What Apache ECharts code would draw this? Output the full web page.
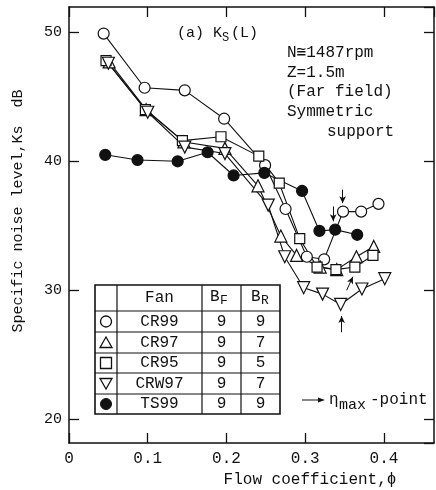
<!DOCTYPE html>
<html>
<head>
    <meta charset="utf-8">
    <title>Ks(L) - Specific noise level</title>
    <script src="https://cdn.jsdelivr.net/npm/echarts@6/dist/echarts.min.js"></script>
    <style>html,body{margin:0;padding:0;background:#fff;}</style>
</head>
<body>
    <div id="main" style="width: 436px;height:490px;"></div>
    <script type="text/javascript">
        // flow coefficient (phi) and Ks [dB]
        var phiCR99 = [0.044, 0.096, 0.147, 0.197, 0.249, 0.275, 0.302, 0.324, 0.348, 0.371, 0.393];
        var ksCR99  = [49.9, 45.7, 45.5, 43.3, 39.7, 36.3, 32.6, 32.4, 36.1, 36.1, 36.7];

        var phiCR97 = [0.051, 0.098, 0.146, 0.198, 0.240, 0.269, 0.289, 0.319, 0.340, 0.365, 0.387];
        var ksCR97  = [47.7, 44.0, 41.5, 41.0, 38.1, 34.2, 32.7, 31.8, 31.6, 32.6, 33.4];

        var phiCR95 = [0.047, 0.097, 0.144, 0.193, 0.241, 0.267, 0.293, 0.315, 0.339, 0.363, 0.386];
        var ksCR95  = [47.8, 44.0, 41.6, 41.9, 40.4, 38.3, 34.0, 31.8, 31.6, 31.8, 32.7];

        var phiCRW97 = [0.050, 0.100, 0.147, 0.198, 0.253, 0.274, 0.298, 0.322, 0.345, 0.372, 0.401];
        var ksCRW97  = [47.6, 43.8, 41.1, 40.6, 36.6, 32.6, 30.2, 29.7, 28.9, 30.1, 30.9];

        var phiTS99 = [0.046, 0.087, 0.138, 0.176, 0.209, 0.248, 0.296, 0.318, 0.338, 0.366];
        var ksTS99  = [40.5, 40.1, 40.0, 40.7, 38.9, 39.1, 37.7, 34.6, 34.7, 34.3];

        // legend table rows
        var fans = ['CR99', 'CR97', 'CR95', 'CRW97', 'TS99'];
        var bladesF = [9, 9, 9, 9, 9];
        var bladesR = [9, 7, 5, 7, 9];

        // eta-max arrows (phi, Ks from -> to)
        var arrowCR99  = [[0.3475, 37.8], [0.3475, 36.75]];
        var arrowTS99  = [[0.3355, 36.5], [0.3355, 35.35]];
        var arrowCR95  = [[0.3526, 30.0], [0.3605, 31.05]];
        var arrowCRW97 = [[0.3462, 26.75], [0.3462, 28.0]];

        var FONT = '"Liberation Mono","DejaVu Sans Mono",monospace';
        var INK = '#111';

        function pairs(xs, ys) {
            return xs.map(function (x, i) { return [x, ys[i]]; });
        }
        function arrow(a) {
            return {
                silent: true,
                symbol: ['none', 'arrow'],
                symbolSize: [5, 7],
                lineStyle: { color: INK, width: 1, type: 'solid' },
                label: { show: false },
                emphasis: { disabled: true },
                data: [[{ coord: a[0] }, { coord: a[1] }]]
            };
        }
        function makeSeries(name, xs, ys, symbol, size, filled, rot, arr) {
            var s = {
                name: name,
                type: 'line',
                data: pairs(xs, ys),
                symbol: symbol,
                symbolSize: size,
                symbolRotate: rot || 0,
                showAllSymbol: true,
                lineStyle: { color: INK, width: 1.1 },
                itemStyle: { color: filled ? INK : '#fff', borderColor: INK, borderWidth: 1.2 },
                emphasis: { disabled: true },
                z: 3
            };
            if (arr) s.markLine = arrow(arr);
            return s;
        }
        function txt(x, y, s, size, align) {
            return {
                type: 'text', x: x, y: y, z: 20,
                style: { text: s, font: size + 'px ' + FONT, fill: INK, align: align || 'left', verticalAlign: 'middle' }
            };
        }
        function line(x1, y1, x2, y2, w) {
            return { type: 'line', z: 15, shape: { x1: x1, y1: y1, x2: x2, y2: y2 }, style: { stroke: INK, lineWidth: w || 1.2 } };
        }

        // legend table geometry (pixels)
        var colX = [95, 117, 202, 241, 280];
        var rowY = [285, 311, 332, 353, 373, 394, 414];

        var graphics = [];
        graphics.push({ type: 'rect', z: 14, shape: { x: 95, y: 285, width: 185, height: 129 }, style: { fill: '#fff', stroke: INK, lineWidth: 1.6 } });
        rowY.slice(1, -1).forEach(function (y) { graphics.push(line(95, y, 280, y)); });
        colX.slice(1, -1).forEach(function (x) { graphics.push(line(x, 285, x, 414)); });
        graphics.push(txt(159.5, 298, 'Fan', 16, 'center'));
        graphics.push(txt(210, 297, 'B', 16));
        graphics.push(txt(220, 301, 'F', 13));
        graphics.push(txt(251, 297, 'B', 16));
        graphics.push(txt(261, 301, 'R', 13));
        fans.forEach(function (f, i) {
            var cy = (rowY[i + 1] + rowY[i + 2]) / 2;
            graphics.push(txt(159.5, cy, f, 16, 'center'));
            graphics.push(txt(221.5, cy, String(bladesF[i]), 16, 'center'));
            graphics.push(txt(260.5, cy, String(bladesR[i]), 16, 'center'));
        });
        // symbol column
        var sx = 106;
        var symY = fans.map(function (f, i) { return (rowY[i + 1] + rowY[i + 2]) / 2; });
        var sym = { stroke: INK, lineWidth: 1.3, fill: '#fff' };
        graphics.push({ type: 'circle', z: 16, shape: { cx: sx, cy: symY[0], r: 5.5 }, style: sym });
        graphics.push({ type: 'polygon', z: 16, shape: { points: [[sx - 6, symY[1] + 5], [sx + 6, symY[1] + 5], [sx, symY[1] - 5.5]] }, style: sym });
        graphics.push({ type: 'rect', z: 16, shape: { x: sx - 5.5, y: symY[2] - 5.5, width: 11, height: 11 }, style: sym });
        graphics.push({ type: 'polygon', z: 16, shape: { points: [[sx - 6, symY[3] - 5], [sx + 6, symY[3] - 5], [sx, symY[3] + 5.5]] }, style: sym });
        graphics.push({ type: 'circle', z: 16, shape: { cx: sx, cy: symY[4], r: 5.5 }, style: { fill: INK, stroke: INK } });

        // title and conditions
        graphics.push(txt(177, 33, '(a) K', 15));
        graphics.push(txt(222, 38, 'S', 12));
        graphics.push(txt(231, 33, '(L)', 15));
        graphics.push(txt(287, 53, 'N\u22451487rpm', 16));
        graphics.push(txt(287, 73, 'Z=1.5m', 16));
        graphics.push(txt(287, 92, '(Far field)', 16));
        graphics.push(txt(287, 112, 'Symmetric', 16));
        graphics.push(txt(327, 132, 'support', 16));

        // eta-max note
        graphics.push(line(302, 400, 321, 400, 1));
        graphics.push({ type: 'polygon', z: 15, shape: { points: [[318, 397.5], [325, 400], [318, 402.5]] }, style: { fill: INK } });
        graphics.push(txt(329, 400, '\u03b7', 16));
        graphics.push(txt(339, 405, 'max', 15));
        graphics.push(txt(370, 400, '-point', 16));

        // axis titles
        graphics.push(txt(310, 480, 'Flow coefficient,\u03d5', 16, 'center'));
        graphics.push({
            type: 'text', x: 18, y: 211, rotation: Math.PI / 2, z: 20,
            style: { text: 'Specific noise level,Ks  dB', font: '15px ' + FONT, fill: INK, align: 'center', verticalAlign: 'middle' }
        });

        var xMin = 0, xMax = 0.4635;
        var yMin = 18.16, yMax = 51.96;

        function axisLine() {
            return { show: true, onZero: false, lineStyle: { color: INK, width: 1.5 } };
        }
        function tick() {
            return { show: true, inside: true, length: 10, lineStyle: { color: INK, width: 1.3 } };
        }

        var myChart = echarts.init(document.getElementById('main'));
        var option = {
            animation: false,
            backgroundColor: '#fff',
            grid: { left: 69, right: 2, top: 7, bottom: 47 },
            xAxis: [{
                type: 'value', min: xMin, max: xMax, interval: 0.1, position: 'bottom',
                axisLine: axisLine(), axisTick: tick(), splitLine: { show: false },
                axisLabel: { color: INK, fontFamily: FONT, fontSize: 16, margin: 8, showMaxLabel: false }
            }, {
                type: 'value', min: xMin, max: xMax, interval: 0.1, position: 'top',
                axisLine: axisLine(), axisTick: tick(), splitLine: { show: false }, axisLabel: { show: false }
            }],
            yAxis: [{
                type: 'value', min: yMin, max: yMax, splitNumber: 3, minInterval: 10, maxInterval: 10, position: 'left',
                axisLine: axisLine(), axisTick: tick(), splitLine: { show: false },
                axisLabel: { color: INK, fontFamily: FONT, fontSize: 15, margin: 7, showMinLabel: false, showMaxLabel: false }
            }, {
                type: 'value', min: yMin, max: yMax, splitNumber: 3, minInterval: 10, maxInterval: 10, position: 'right',
                axisLine: axisLine(), axisTick: tick(), splitLine: { show: false }, axisLabel: { show: false }
            }],
            series: [
                makeSeries('CR99', phiCR99, ksCR99, 'circle', 11, false, 0, arrowCR99),
                makeSeries('CR97', phiCR97, ksCR97, 'triangle', 12, false, 0, null),
                makeSeries('CR95', phiCR95, ksCR95, 'rect', 10, false, 0, arrowCR95),
                makeSeries('CRW97', phiCRW97, ksCRW97, 'triangle', 12, false, 180, arrowCRW97),
                makeSeries('TS99', phiTS99, ksTS99, 'circle', 11, true, 0, arrowTS99)
            ],
            graphic: graphics
        };
        myChart.setOption(option);
    </script>
</body>
</html>
